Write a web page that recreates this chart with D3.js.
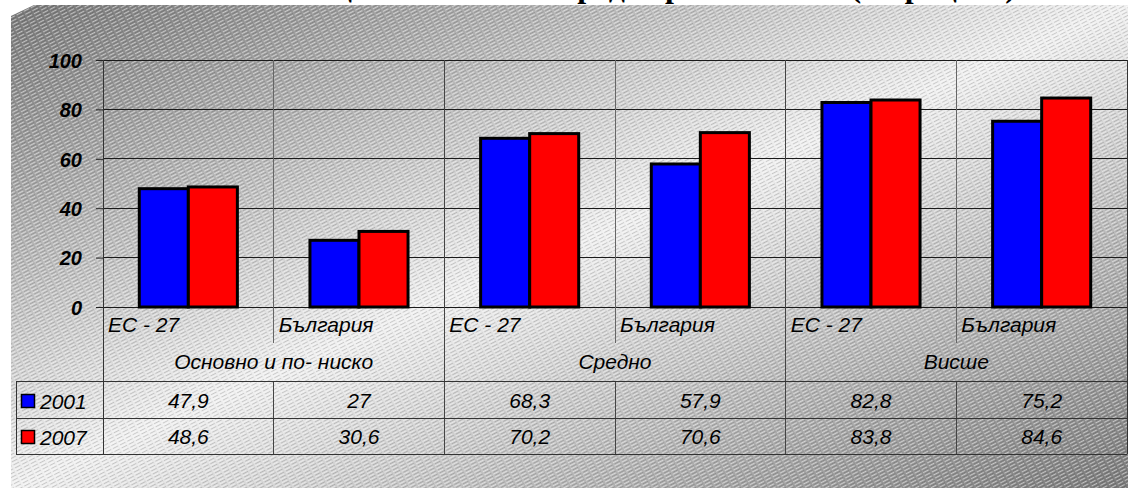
<!DOCTYPE html>
<html>
<head>
<meta charset="utf-8">
<script src="https://cdn.jsdelivr.net/npm/d3@7"></script>
<style>
  html, body { margin: 0; padding: 0; background: #fff; }
  svg { display: block; }
  text { font-family: "Liberation Sans", Arial, sans-serif; }
</style>
</head>
<body>
<svg id="chart" width="1128" height="488"></svg>
<script>
// ---- data ----
const groups = ["Основно и по- ниско", "Средно", "Висше"];
const regions = ["ЕС - 27", "България"];
const series = ["2001", "2007"];
const values2001 = [47.9, 27, 68.3, 57.9, 82.8, 75.2];
const values2007 = [48.6, 30.6, 70.2, 70.6, 83.8, 84.6];
const seriesColors = ["#0000ff", "#ff0000"];
const yTicks = [0, 20, 40, 60, 80, 100];
const titleText = "Равнище на заетост според образованието (в процент)";

// one column per (education level, region)
const categories = [];
groups.forEach((g, gi) => regions.forEach((r, ri) => categories.push({ id: gi + "-" + ri, group: g, region: r, gi, ri })));
const valuesBySeries = [values2001, values2007];
const fmt = v => String(v).replace(".", ",");

const svg = d3.select("#chart");
const defs = svg.append("defs");

// background gradient: dark corners, light diagonal band
const grad = defs.append("linearGradient").attr("id", "bgGrad")
  .attr("x1", 0).attr("y1", 0).attr("x2", 1).attr("y2", 1);
grad.append("stop").attr("offset", "0%").attr("stop-color", "#787878");
grad.append("stop").attr("offset", "50%").attr("stop-color", "#f0f0f0");
grad.append("stop").attr("offset", "100%").attr("stop-color", "#7a7a7a");

// fine diagonal hatching
const pat = defs.append("pattern").attr("id", "hatch")
  .attr("patternUnits", "userSpaceOnUse").attr("width", 8).attr("height", 3.4)
  .attr("patternTransform", "rotate(-27)");
pat.append("rect").attr("x", 0).attr("y", 0).attr("width", 6).attr("height", 1)
  .attr("fill", "rgba(255,255,255,0.5)");
pat.append("rect").attr("x", 1).attr("y", 1.7).attr("width", 6).attr("height", 0.9)
  .attr("fill", "rgba(0,0,0,0.16)");

// title (sits above the visible area, only its lowest strokes show)
svg.append("text")
  .attr("x", 1016).attr("y", -3)
  .attr("text-anchor", "end")
  .style("font-family", "'Liberation Serif', 'Times New Roman', serif")
  .style("font-weight", "bold").style("font-size", "32px")
  .text(titleText);

// chart area with bevelled corner
const bgPath = "M11,16 L34,5 L1128,5 L1128,488 L11,488 Z";
svg.append("path").attr("d", bgPath).attr("fill", "url(#bgGrad)");
svg.append("path").attr("d", bgPath).attr("fill", "url(#hatch)");

// ---- scales ----
const plotLeft = 103, plotRight = 1127, plotTop = 60, plotBottom = 307;
const x = d3.scaleBand().domain(categories.map(c => c.id)).range([plotLeft, plotRight]).paddingInner(0).paddingOuter(0);
const xInner = d3.scaleBand().domain(series).range([0, x.bandwidth()]).paddingInner(0).paddingOuter(0.74);
const y = d3.scaleLinear().domain([0, 100]).range([plotBottom, plotTop]);

// table rows
const catRowBottom = 343, groupRowBottom = 381, row1Bottom = 418, row2Bottom = 454, tableLeft = 16;

const lines = svg.append("g");
// horizontal gridlines
lines.selectAll(".hgrid").data(yTicks).join("line")
  .attr("x1", plotLeft).attr("x2", plotRight)
  .attr("y1", d => y(d)).attr("y2", d => y(d))
  .attr("stroke", "#1a1a1a").attr("stroke-width", 1).attr("shape-rendering", "crispEdges");

// vertical separators between columns
categories.slice(1).forEach(c => {
  const xx = x(c.id);
  const groupEdge = c.ri === 0;
  lines.append("line").attr("x1", xx).attr("x2", xx)
    .attr("y1", plotTop).attr("y2", groupEdge ? row2Bottom : catRowBottom)
    .attr("stroke", groupEdge ? "#444" : "#666").attr("shape-rendering", "crispEdges");
  if (!groupEdge) {
    lines.append("line").attr("x1", xx).attr("x2", xx)
      .attr("y1", groupRowBottom).attr("y2", row2Bottom)
      .attr("stroke", "#444").attr("shape-rendering", "crispEdges");
  }
});
// outer borders
[[plotLeft, plotTop, plotLeft, row2Bottom], [plotRight, plotTop, plotRight, row2Bottom],
 [tableLeft, groupRowBottom, tableLeft, row2Bottom]].forEach(l => {
  lines.append("line").attr("x1", l[0]).attr("y1", l[1]).attr("x2", l[2]).attr("y2", l[3])
    .attr("stroke", "#333").attr("shape-rendering", "crispEdges");
});
[groupRowBottom, row1Bottom, row2Bottom].forEach(yy => {
  lines.append("line").attr("x1", tableLeft).attr("x2", plotRight).attr("y1", yy).attr("y2", yy)
    .attr("stroke", "#333").attr("shape-rendering", "crispEdges");
});

// ---- y axis ----
const yAxis = d3.axisLeft(y).tickValues(yTicks).tickSize(7).tickPadding(14).tickFormat(d3.format("d"));
const ya = svg.append("g").attr("transform", `translate(${plotLeft},0)`).call(yAxis);
ya.select(".domain").remove();
ya.selectAll(".tick line").attr("stroke", "#222");
ya.selectAll(".tick text")
  .style("font-family", "'Liberation Sans', Arial, sans-serif")
  .style("font-size", "20px").style("font-weight", "bold").style("font-style", "italic")
  .attr("fill", "#000").attr("dy", "0.36em");

// ---- bars ----
const barData = [];
categories.forEach((c, ci) => series.forEach((s, si) => barData.push({ c, s, si, v: valuesBySeries[si][ci] })));
svg.append("g").selectAll("rect").data(barData).join("rect")
  .attr("x", d => x(d.c.id) + xInner(d.s))
  .attr("width", xInner.bandwidth())
  .attr("y", d => y(d.v))
  .attr("height", d => y(0) - y(d.v))
  .attr("fill", d => seriesColors[d.si])
  .attr("stroke", "#000").attr("stroke-width", 3);

// ---- labels under the axis ----
const txt = svg.append("g").style("font-size", "21px").style("font-style", "italic").attr("fill", "#000");
txt.selectAll(".cat").data(categories).join("text")
  .attr("x", d => x(d.id) + 5).attr("y", 332)
  .text(d => d.region);
txt.selectAll(".grp").data(groups).join("text")
  .attr("x", (g, gi) => x(gi + "-0") + x.bandwidth())
  .attr("y", 369).attr("text-anchor", "middle")
  .text(g => g);

// ---- data table ----
const rowBaselines = [408, 444];
series.forEach((s, si) => {
  txt.selectAll(".val" + si).data(valuesBySeries[si]).join("text")
    .attr("x", (v, i) => x(categories[i].id) + x.bandwidth() / 2)
    .attr("y", rowBaselines[si]).attr("text-anchor", "middle")
    .text(v => fmt(v));
  svg.append("rect").attr("x", 21.5).attr("y", rowBaselines[si] - 13.5)
    .attr("width", 13).attr("height", 13)
    .attr("fill", seriesColors[si]).attr("stroke", "#000").attr("stroke-width", 1.5);
  txt.append("text").attr("x", 40).attr("y", rowBaselines[si] + 1).text(s);
});
</script>
</body>
</html>
